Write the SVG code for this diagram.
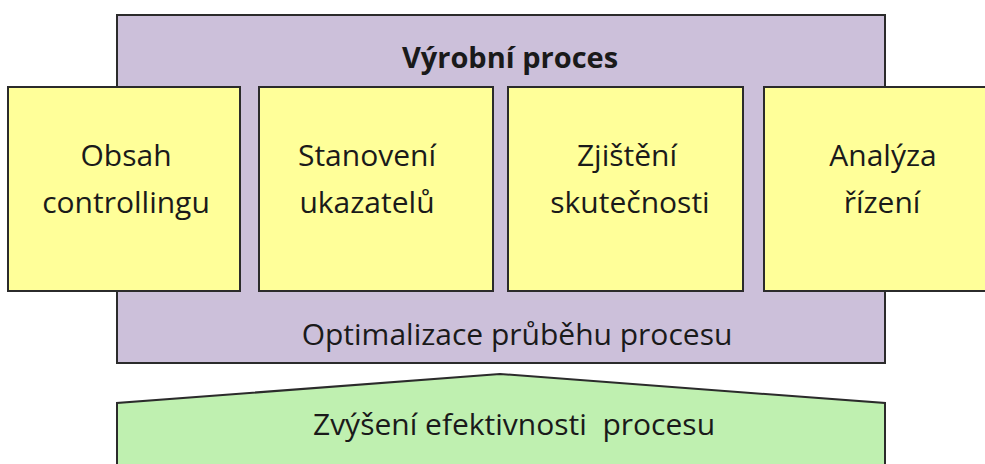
<svg xmlns="http://www.w3.org/2000/svg" width="985" height="464" viewBox="0 0 985 464">
  <style>
    .frame { fill: #CCC0DA; stroke: #2b2b2b; stroke-width: 2; }
    .box { fill: #FFFF99; stroke: #2b2b2b; stroke-width: 2; }
    .goal { fill: #BFF0B0; stroke: #2b2b2b; stroke-width: 2; }
    text { font-family: "Open Sans", "Liberation Sans", sans-serif; font-size: 30px; fill: #1a1a1a; text-anchor: middle; }
    .title { font-weight: bold; font-size: 29px; }
  </style>

  <!-- production process frame -->
  <g id="vyrobni-proces">
    <rect class="frame" x="117" y="15" width="768" height="348"/>
    <text class="title" x="510" y="68">Výrobní proces</text>
    <text x="517" y="345">Optimalizace průběhu procesu</text>
  </g>

  <g id="obsah">
    <rect class="box" x="8" y="87" width="232" height="204"/>
    <text x="126" y="166">Obsah</text>
    <text x="126" y="213">controllingu</text>
  </g>

  <g id="stanoveni">
    <rect class="box" x="259" y="87" width="234" height="204"/>
    <text x="367" y="166">Stanovení</text>
    <text x="367" y="213">ukazatelů</text>
  </g>

  <g id="zjisteni">
    <rect class="box" x="508" y="87" width="235" height="204"/>
    <text x="627" y="166">Zjištění</text>
    <text x="630" y="213">skutečnosti</text>
  </g>

  <g id="analyza">
    <rect class="box" x="764" y="87" width="230" height="204"/>
    <text x="883" y="166">Analýza</text>
    <text x="882" y="213">řízení</text>
  </g>

  <!-- efficiency goal (pentagon pointing up) -->
  <g id="efektivnost">
    <polygon class="goal" points="117,470 117,403 500,374 885,403 885,470"/>
    <text x="514" y="435" xml:space="preserve">Zvýšení efektivnosti  procesu</text>
  </g>

  <g id="connectors"/>
</svg>
